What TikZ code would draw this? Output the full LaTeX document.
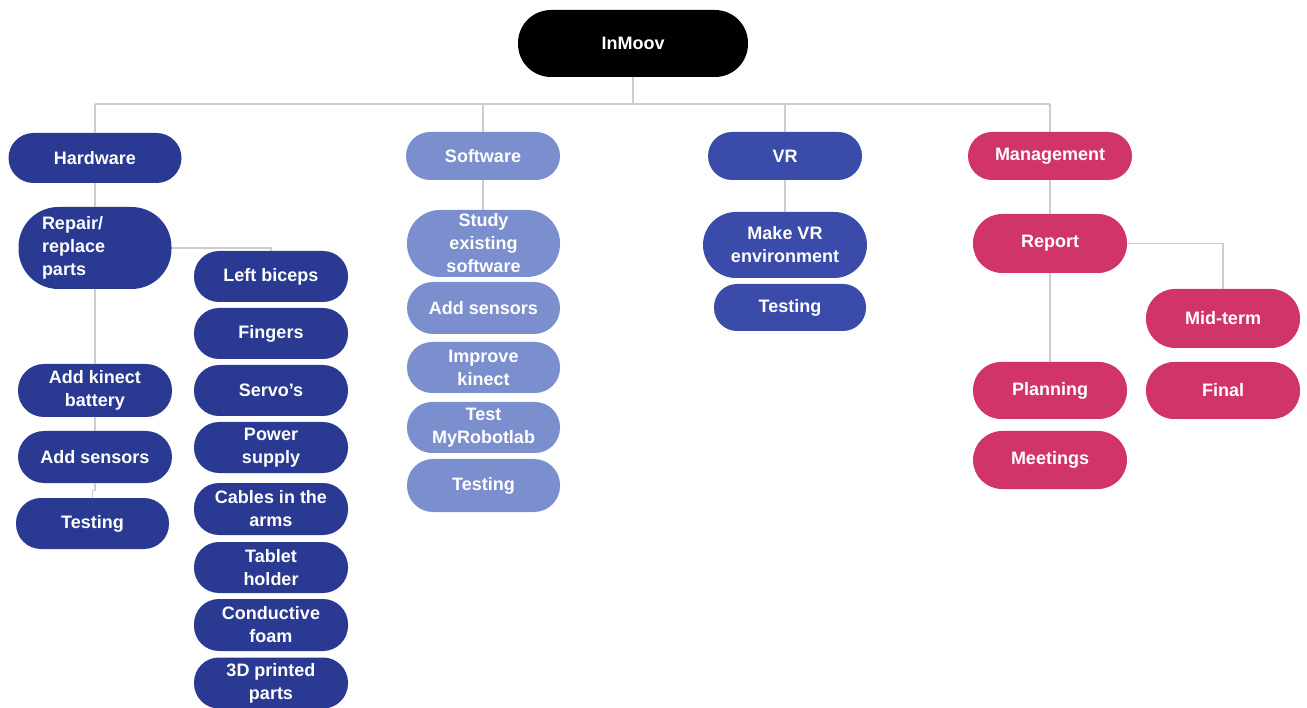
\documentclass[tikz,border=0pt]{standalone}
\usepackage{fontspec}
\setmainfont{Liberation Sans}
\definecolor{rootc}{HTML}{000000}
\definecolor{hwc}{HTML}{2A3A92}
\definecolor{swc}{HTML}{7B8FCF}
\definecolor{vrc}{HTML}{3A4BAA}
\definecolor{mgc}{HTML}{D13466}
\definecolor{linec}{HTML}{CCCCCC}
\begin{document}
\begin{tikzpicture}[x=1pt,y=-1pt,
  pill/.style={rectangle, rounded corners=#1, text=white, align=center, inner sep=0pt,
    font=\bfseries\fontsize{18}{23}\selectfont},
  conn/.style={draw=linec, line width=1.3pt}]
\useasboundingbox (0,0) rectangle (1307,708);
% root
\node[pill=33, fill=rootc, minimum width=230, minimum height=67] (root) at (633,43.5) {InMoov};
% level 1
\node[pill=25, fill=hwc, minimum width=173, minimum height=50] (hw) at (95,158) {Hardware};
\node[pill=24, fill=swc, minimum width=154, minimum height=48] (sw) at (483,156) {Software};
\node[pill=24, fill=vrc, minimum width=154, minimum height=48] (vr) at (785,156) {VR};
\node[pill=24, fill=mgc, minimum width=164, minimum height=48] (mg) at (1050,156) {Management};
% hardware
\node[pill=40, fill=hwc, minimum width=153, minimum height=82, text width=106, align=left] (rep) at (95,248) {Repair/\\replace\\parts};
\node[pill=26, fill=hwc, minimum width=154, minimum height=53] (kin) at (95,390.5) {Add kinect\\battery};
\node[pill=26, fill=hwc, minimum width=154, minimum height=52] (hsens) at (95,457) {Add sensors};
\node[pill=25, fill=hwc, minimum width=153, minimum height=51] (htest) at (92.5,523.5) {Testing};
\node[pill=25, fill=hwc, minimum width=154, minimum height=51] (lb) at (271,276.5) {Left biceps};
\node[pill=25, fill=hwc, minimum width=154, minimum height=51] (fing) at (271,333.5) {Fingers};
\node[pill=25, fill=hwc, minimum width=154, minimum height=51] (servo) at (271,390.5) {Servo’s};
\node[pill=25, fill=hwc, minimum width=154, minimum height=51] (pow) at (271,447.5) {Power\\supply};
\node[pill=25, fill=hwc, minimum width=154, minimum height=52] (cab) at (271,509) {Cables in the\\arms};
\node[pill=25, fill=hwc, minimum width=154, minimum height=51] (tab) at (271,567.5) {Tablet\\holder};
\node[pill=25, fill=hwc, minimum width=154, minimum height=52] (cond) at (271,625) {Conductive\\foam};
\node[pill=25, fill=hwc, minimum width=154, minimum height=51] (print) at (271,683) {3D printed\\parts};
% software
\node[pill=33, fill=swc, minimum width=153, minimum height=67] (study) at (483.5,243.5) {Study\\existing\\software};
\node[pill=26, fill=swc, minimum width=153, minimum height=52] (ssens) at (483.5,308) {Add sensors};
\node[pill=25, fill=swc, minimum width=153, minimum height=51] (imp) at (483.5,367.5) {Improve\\kinect};
\node[pill=25, fill=swc, minimum width=153, minimum height=51] (mrl) at (483.5,427.5) {Test\\MyRobotlab};
\node[pill=26, fill=swc, minimum width=153, minimum height=53] (stest) at (483.5,485.5) {Testing};
% VR
\node[pill=33, fill=vrc, minimum width=164, minimum height=66] (mkvr) at (785,245) {Make VR\\environment};
\node[pill=23, fill=vrc, minimum width=152, minimum height=47] (vtest) at (790,307.5) {Testing};
% management
\node[pill=29, fill=mgc, minimum width=154, minimum height=59] (rpt) at (1050,243.5) {Report};
\node[pill=29, fill=mgc, minimum width=154, minimum height=59] (mid) at (1223,318.5) {Mid-term};
\node[pill=28, fill=mgc, minimum width=154, minimum height=57] (fin) at (1223,390.5) {Final};
\node[pill=28, fill=mgc, minimum width=154, minimum height=57] (plan) at (1050,390.5) {Planning};
\node[pill=29, fill=mgc, minimum width=154, minimum height=58] (meet) at (1050,460) {Meetings};
% connectors
\coordinate (busL) at (95,104);
\coordinate (busR) at (1050,104);
\draw[conn] (busL) -- (busR);
\draw[conn] (root.south) -- (root.south |- busL);
\draw[conn] (hw.north) -- (hw.north |- busL);
\draw[conn] (sw.north) -- (sw.north |- busL);
\draw[conn] (vr.north) -- (vr.north |- busL);
\draw[conn] (mg.north) -- (mg.north |- busL);
\draw[conn] (hw.south) -- (rep.north);
\draw[conn] (rep.east) -| (lb.north);
\draw[conn] (rep.south) -- (kin.north);
\draw[conn] (kin.south) -- (hsens.north);
\draw[conn] (hsens.south) -- ++(0,7) -| (htest.north);
\draw[conn] (sw.south) -- (study.north -| sw.south);
\draw[conn] (vr.south) -- (mkvr.north);
\draw[conn] (mg.south) -- (rpt.north);
\draw[conn] (rpt.east) -| (mid.north);
\draw[conn] (rpt.south) -- (plan.north);
\end{tikzpicture}
\end{document}
